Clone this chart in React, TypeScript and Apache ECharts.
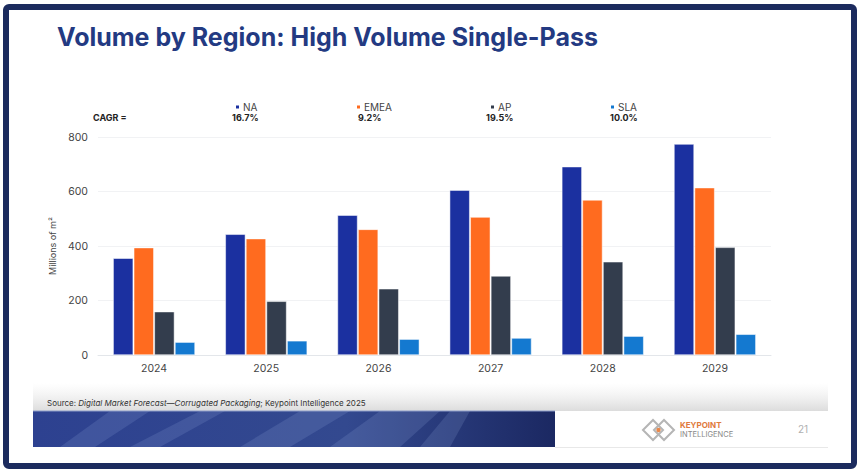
import React, { useEffect, useRef } from "react";
import * as echarts from "echarts";

const years = ["2024", "2025", "2026", "2027", "2028", "2029"];
const regions = ["NA", "EMEA", "AP", "SLA"];
const naValues = [355, 443, 513, 605, 691, 774];
const emeaValues = [394, 427, 461, 506, 569, 614];
const apValues = [159, 197, 243, 290, 342, 395];
const slaValues = [47, 52, 58, 62, 69, 76];
const cagrLabels = ["16.7%", "9.2%", "19.5%", "10.0%"];
const regionColors = ["#1b30a0", "#ff6b1f", "#333d4d", "#1479d0"];

const seriesValues = [naValues, emeaValues, apValues, slaValues];
const legendLeft = [229, 350, 484, 604];
const cagrLeft = [232, 358, 486, 610];

export default function App() {
  const ref = useRef<HTMLDivElement>(null);

  useEffect(() => {
    document.body.style.margin = "0";
    const chart = echarts.init(ref.current!, null, { renderer: "svg" });
    const font = "Inter, 'Noto Sans', sans-serif";

    const streaks = [
      [[60, 447], [110, 411], [150, 411], [95, 447]],
      [[130, 447], [200, 411], [225, 411], [160, 447]],
      [[240, 447], [300, 411], [350, 411], [290, 447]],
      [[330, 447], [380, 411], [440, 411], [400, 447]],
      [[420, 447], [450, 411], [470, 411], [450, 447]],
    ];

    chart.setOption({
      animation: false,
      backgroundColor: "#ffffff",
      textStyle: { fontFamily: font },
      legend: regions.map((name, i) => ({
        data: [name],
        left: legendLeft[i],
        top: 97,
        itemWidth: 5,
        itemHeight: 5,
        icon: "rect",
        itemGap: 4,
        textStyle: { fontSize: 10, color: "#444", fontFamily: font, padding: [0, 0, 0, -2] },
        selectedMode: false,
      })),
      grid: { left: 98, right: 93, top: 137, bottom: 120 },
      xAxis: {
        type: "category",
        data: years,
        axisLine: { lineStyle: { color: "#e3e6ea" } },
        axisTick: { show: false },
        axisLabel: { color: "#444", fontSize: 10.5, margin: 8, fontFamily: font },
      },
      yAxis: {
        type: "value",
        min: 0,
        max: 800,
        interval: 200,
        name: "Millions of m²",
        nameLocation: "middle",
        nameGap: 36,
        nameTextStyle: { color: "#444", fontSize: 9, fontFamily: font },
        axisLabel: { color: "#444", fontSize: 10.5, margin: 10, fontFamily: font },
        splitLine: { lineStyle: { color: "#f1f2f4" } },
      },
      series: regions.map((name, i) => ({
        name,
        type: "bar",
        data: seriesValues[i],
        barWidth: 20,
        barGap: "3%",
        itemStyle: { color: regionColors[i], borderColor: "#ffffff", borderWidth: 0.5 },
      })),
      graphic: [
        // slide frame
        {
          type: "rect",
          shape: { x: 6, y: 7, width: 848, height: 459, r: 3 },
          style: { fill: "none", stroke: "#1c2b5e", lineWidth: 6 },
          z: 10,
        },
        {
          type: "text",
          left: 57,
          top: 24,
          style: {
            text: "Volume by Region: High Volume Single-Pass",
            font: `bold 25px ${font}`,
            fill: "#233a82",
          },
        },
        {
          type: "text",
          left: 93,
          top: 113,
          style: { text: "CAGR =", font: `bold 9px ${font}`, fill: "#222" },
        },
        ...cagrLabels.map((t, i) => ({
          type: "text",
          left: cagrLeft[i],
          top: 113,
          style: { text: t, font: `bold 9px ${font}`, fill: "#222" },
        })),
        // footer shading
        {
          type: "rect",
          shape: { x: 33, y: 383, width: 795, height: 28 },
          style: {
            fill: new echarts.graphic.LinearGradient(0, 0, 0, 1, [
              { offset: 0, color: "rgba(235,235,235,0)" },
              { offset: 1, color: "#dcdcdc" },
            ]),
          },
        },
        {
          type: "rect",
          shape: { x: 33, y: 411, width: 522, height: 36 },
          style: {
            fill: new echarts.graphic.LinearGradient(0, 0, 1, 0, [
              { offset: 0, color: "#2d4190" },
              { offset: 0.6, color: "#33498f" },
              { offset: 1, color: "#1b2862" },
            ]),
          },
        },
        ...streaks.map((pts) => ({
          type: "polygon",
          shape: { points: pts },
          style: { fill: "rgba(150,170,220,0.18)" },
        })),
        {
          type: "line",
          shape: { x1: 33, y1: 411, x2: 555, y2: 411 },
          style: { stroke: "#8c9cc8", lineWidth: 1 },
        },
        {
          type: "line",
          shape: { x1: 555, y1: 447.5, x2: 828, y2: 447.5 },
          style: { stroke: "#e8e8e8", lineWidth: 1 },
        },
        {
          type: "text",
          left: 47,
          top: 399,
          style: {
            text: "{n|Source: }{i|Digital Market Forecast—Corrugated Packaging}{n|; Keypoint Intelligence 2025}",
            rich: {
              n: { font: `8px ${font}`, fill: "#333" },
              i: { font: `italic 8px ${font}`, fill: "#333" },
            },
          },
        },
        // logo mark
        {
          type: "polygon",
          shape: { points: [[643, 430], [653, 420], [663, 430], [653, 440]] },
          style: { fill: "none", stroke: "#b5b5b5", lineWidth: 2 },
        },
        {
          type: "polygon",
          shape: { points: [[654, 430], [664, 420], [674, 430], [664, 440]] },
          style: { fill: "none", stroke: "#b5b5b5", lineWidth: 2 },
        },
        {
          type: "circle",
          shape: { cx: 658.5, cy: 430, r: 2.2 },
          style: { fill: "#e8874a" },
        },
        {
          type: "text",
          left: 680,
          top: 421,
          style: { text: "KEYPOINT", font: `bold 8px ${font}`, fill: "#e07a3c" },
        },
        {
          type: "text",
          left: 680,
          top: 430,
          style: { text: "INTELLIGENCE", font: `7.5px ${font}`, fill: "#888" },
        },
        {
          type: "text",
          left: 798,
          top: 424,
          style: { text: "21", font: `10px ${font}`, fill: "#b0b0b0" },
        },
      ],
    });

    return () => chart.dispose();
  }, []);

  return (
    <div
      ref={ref}
      style={{ position: "fixed", left: 0, top: 0, width: 864, height: 475 }}
    />
  );
}
